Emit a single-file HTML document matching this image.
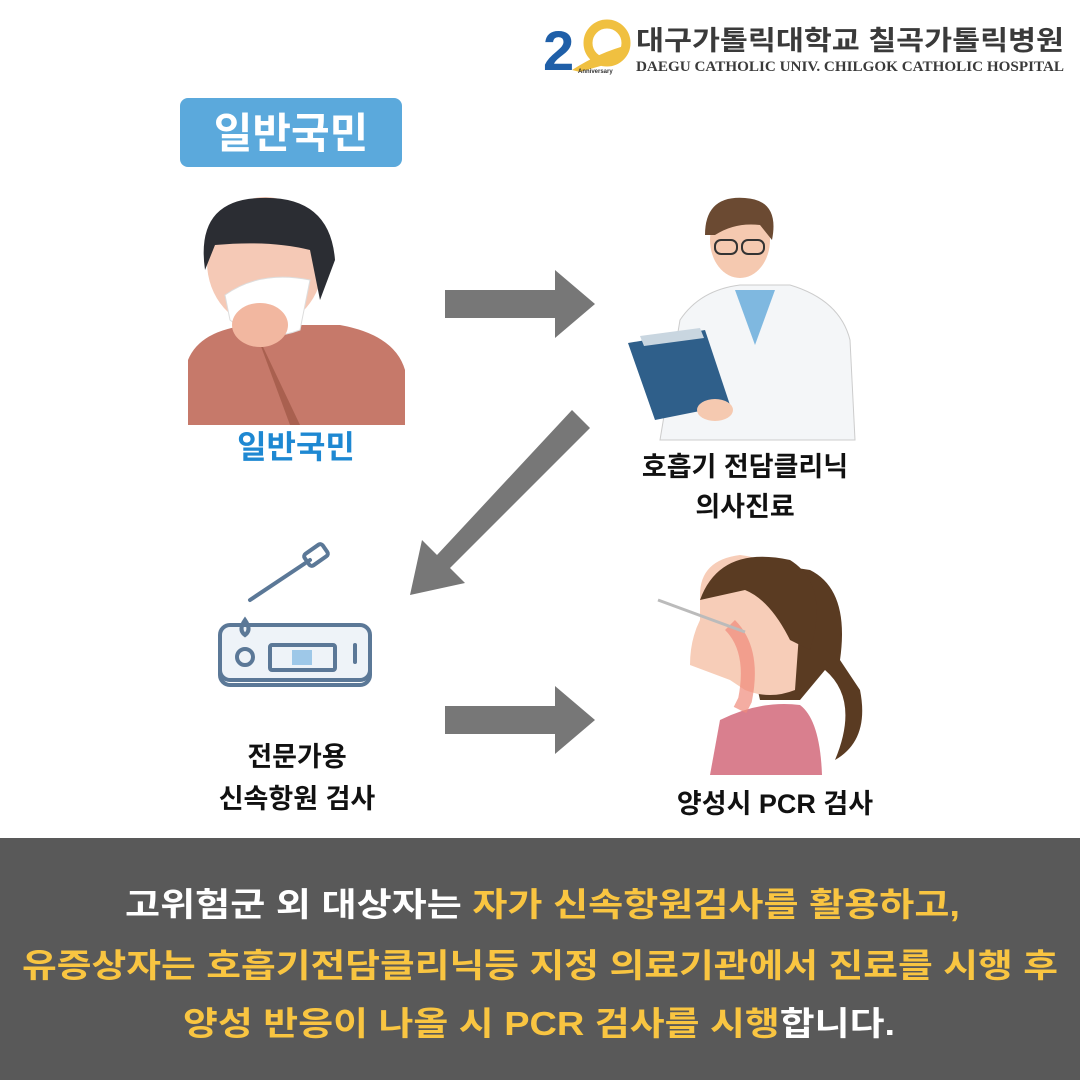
<!DOCTYPE html>
<html><head><meta charset="utf-8"><style>
html,body{margin:0;padding:0;background:#fff}
svg{display:block}
text{font-family:"Liberation Sans","Noto Sans CJK KR",sans-serif;font-weight:bold}
</style></head><body>
<svg width="1080" height="1080" viewBox="0 0 1080 1080" xmlns="http://www.w3.org/2000/svg">
<rect width="1080" height="1080" fill="#fff"/>
<!-- logo -->
<text x="543" y="70" font-size="56" fill="#1f5fa8" font-family="Liberation Sans">2</text>
<circle cx="607" cy="43" r="19" fill="none" stroke="#f0c040" stroke-width="9"/>
<path d="M572 70 Q600 52 628 45 L622 60 Q600 66 580 72Z" fill="#f0c040"/>
<text x="578" y="73" font-size="6" fill="#333" font-weight="normal">Anniversary</text>
<text x="636" y="50" font-size="27" fill="#3a3a3a" textLength="428" lengthAdjust="spacingAndGlyphs">대구가톨릭대학교  칠곡가톨릭병원</text>
<text x="636" y="71" font-size="15" fill="#3a3a3a" font-family="Liberation Serif" textLength="428" lengthAdjust="spacingAndGlyphs" style="font-family:'Liberation Serif',serif">DAEGU CATHOLIC UNIV. CHILGOK CATHOLIC HOSPITAL</text>
<!-- badge -->
<rect x="180" y="98" width="222" height="69" rx="8" fill="#5ba9dc"/>
<text x="291" y="148" font-size="42" fill="#fff" text-anchor="middle">일반국민</text>
<!-- person 1 -->
<path d="M188 425 L188 360 Q200 330 250 325 L340 325 Q395 335 405 370 L405 425Z" fill="#c6796a"/>
<path d="M255 330 L300 425 L290 425Z" fill="#a9604f"/>
<ellipse cx="265" cy="262" rx="58" ry="65" fill="#f5c9b6"/>
<path d="M205 270 Q195 200 260 198 Q330 195 335 260 L320 300 L310 250 Q270 240 215 245Z" fill="#2b2d33"/>
<path d="M225 295 Q260 270 310 280 L300 330 Q260 345 230 320Z" fill="#fff" stroke="#ddd"/>
<ellipse cx="260" cy="325" rx="28" ry="22" fill="#f2b7a0"/>
<!-- arrows -->
<polygon points="445,290 555,290 555,270 595,304 555,338 555,318 445,318" fill="#777"/>
<polygon points="445,706 555,706 555,686 595,720 555,754 555,734 445,734" fill="#777"/>
<polygon points="572,410 590,428 450,568 465,583 410,595 422,540 437,555" fill="#777"/>
<text x="296" y="458" font-size="32" fill="#1e88d2" text-anchor="middle">일반국민</text>
<!-- doctor -->
<path d="M660 440 L680 320 Q700 290 740 285 L790 285 Q840 300 850 340 L855 440Z" fill="#f4f6f8" stroke="#ccc"/>
<path d="M735 290 L755 345 L775 290Z" fill="#7fb8e0"/>
<ellipse cx="740" cy="240" rx="30" ry="38" fill="#f5c9b0"/>
<path d="M705 235 Q705 195 745 198 Q780 200 772 240 L760 225 Q735 222 715 235Z" fill="#6b4a32"/>
<rect x="715" y="240" width="22" height="14" rx="6" fill="none" stroke="#333" stroke-width="2"/>
<rect x="742" y="240" width="22" height="14" rx="6" fill="none" stroke="#333" stroke-width="2"/>
<polygon points="628,343 705,330 730,405 655,420" fill="#2f5f8a"/>
<polygon points="640,336 700,328 704,338 644,346" fill="#c9d6e0"/>
<ellipse cx="715" cy="410" rx="18" ry="11" fill="#f5c9b0"/>
<text x="745" y="476" font-size="27" fill="#111" text-anchor="middle">호흡기 전담클리닉</text>
<text x="745" y="516" font-size="27" fill="#111" text-anchor="middle">의사진료</text>
<!-- test kit -->
<g fill="none" stroke="#5b7897" stroke-width="4" stroke-linecap="round">
<line x1="250" y1="600" x2="310" y2="560"/>
<rect x="305" y="548" width="22" height="14" rx="3" transform="rotate(-35 316 555)"/>
<rect x="220" y="635" width="150" height="50" rx="10"/>
<rect x="220" y="625" width="150" height="55" rx="10" fill="#eef3f8"/>
<circle cx="245" cy="657" r="8"/>
<rect x="270" y="645" width="65" height="25" rx="2"/>
<rect x="292" y="650" width="20" height="15" fill="#9ec8e8" stroke="none"/>
<line x1="355" y1="645" x2="355" y2="662"/>
<path d="M245 620 Q238 630 245 635 Q252 630 245 620Z"/>
</g>
<text x="297" y="766" font-size="27" fill="#111" text-anchor="middle">전문가용</text>
<text x="297" y="808" font-size="27" fill="#111" text-anchor="middle">신속항원 검사</text>
<!-- woman -->
<path d="M710 775 L720 720 Q760 700 800 705 Q820 720 822 775Z" fill="#d97f8e"/>
<path d="M740 610 Q760 560 810 570 Q850 590 840 660 L860 690 Q870 740 835 760 Q860 700 825 670 L800 700 L760 700Z" fill="#5a3b22"/>
<path d="M700 595 Q700 560 740 555 Q790 560 800 620 L795 690 Q770 700 745 690 L730 680 L690 665 Q690 640 700 620Z" fill="#f7cdb8"/>
<path d="M700 600 Q720 545 790 560 Q830 585 810 650 L790 640 Q770 600 745 590Z" fill="#5a3b22"/>
<path d="M730 625 Q755 650 745 700 L740 710" stroke="#f08a7a" stroke-width="14" fill="none" opacity="0.7"/>
<line x1="658" y1="600" x2="745" y2="632" stroke="#bbb" stroke-width="3"/>
<text x="775" y="813" font-size="27" fill="#111" text-anchor="middle">양성시 PCR 검사</text>
<!-- bottom band -->
<rect x="0" y="838" width="1080" height="242" fill="#595959"/>
<text x="125" y="916" font-size="33" textLength="835" lengthAdjust="spacingAndGlyphs" fill="#fff">고위험군 외 대상자는 <tspan fill="#f9c541">자가 신속항원검사를 활용하고,</tspan></text>
<text x="22" y="977" font-size="33" textLength="1036" lengthAdjust="spacingAndGlyphs" fill="#f9c541">유증상자는 호흡기전담클리닉등 지정 의료기관에서 진료를 시행 후</text>
<text x="183" y="1035" font-size="33" textLength="712" lengthAdjust="spacingAndGlyphs" fill="#f9c541">양성 반응이 나올 시  PCR 검사를 시행<tspan fill="#fff">합니다.</tspan></text>
</svg>
</body></html>
